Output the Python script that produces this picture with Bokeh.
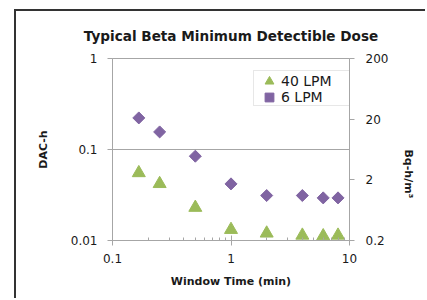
import math
from bokeh.plotting import figure
from bokeh.models import (Range1d, LogScale, LogAxis, FixedTicker, Legend, LegendItem, Title)
from bokeh.embed import file_html
from bokeh.resources import INLINE

# ---- data ----
window_time_min = [0.1667, 0.25, 0.5, 1, 2, 4, 6, 8]
dac_h_40lpm = [0.0553, 0.042, 0.023, 0.01315, 0.0120, 0.01138, 0.0112, 0.01138]
dac_h_6lpm = [0.2223, 0.156, 0.0844, 0.0419, 0.0312, 0.0312, 0.0294, 0.0294]

series_labels = ["40 LPM", "6 LPM"]

x_ticks = [0.1, 1, 10]
x_tick_labels = ["0.1", "1", "10"]
x_minor = [0.2, 0.3, 0.4, 0.5, 0.6, 0.7, 0.8, 0.9, 2, 3, 4, 5, 6, 7, 8, 9]
y_ticks = [0.01, 0.1, 1]
y_tick_labels = ["0.01", "0.1", "1"]
y2_ticks = [0.2, 2, 20, 200]
y2_tick_labels = ["0.2", "2", "20", "200"]

FONT = "DejaVu Sans"
AXIS_COL = "#a6a6a6"
TXT = "#1a1a1a"
GREEN = "#9bbb59"
PURPLE = "#8064a2"

# chart area with a dark frame on its left and top (cropped on right/bottom like the original)
p = figure(width=411, height=289, x_axis_type="log", y_axis_type="log",
           x_range=Range1d(0.1, 10), y_range=Range1d(0.01, 1),
           output_backend="svg", toolbar_location=None,
           min_border_left=96, min_border_right=78, min_border_top=46, min_border_bottom=60,
           styles={"border-left": "2px solid #333333", "border-top": "2px solid #333333",
                   "margin-left": "14px", "margin-top": "9px"})

p.title = Title(text="Typical Beta Minimum Detectible Dose", align="center",
                text_font=FONT, text_font_size="13.6px", text_font_style="bold",
                text_color=TXT, standoff=29, offset=-4)

p.outline_line_color = AXIS_COL
p.outline_line_width = 1
p.xgrid.visible = False
p.ygrid.ticker = FixedTicker(ticks=y_ticks)
p.ygrid.grid_line_color = AXIS_COL
p.ygrid.grid_line_width = 1

xa = p.xaxis[0]
xa.ticker = FixedTicker(ticks=x_ticks, minor_ticks=x_minor)
xa.major_label_overrides = dict(zip(x_ticks, x_tick_labels))
xa.axis_label = "Window Time (min)"

ya = p.yaxis[0]
ya.ticker = FixedTicker(ticks=y_ticks)
ya.major_label_overrides = dict(zip(y_ticks, y_tick_labels))
ya.axis_label = "DAC-h"

p.extra_y_ranges = {"bq": Range1d(0.2, 200)}
p.extra_y_scales = {"bq": LogScale()}
ra = LogAxis(y_range_name="bq", axis_label="Bq-h/m\u00b3")
ra.ticker = FixedTicker(ticks=y2_ticks)
ra.major_label_overrides = dict(zip(y2_ticks, y2_tick_labels))
p.add_layout(ra, "right")

for ax in (xa, ya, ra):
    ax.axis_line_color = AXIS_COL
    ax.major_tick_line_color = AXIS_COL
    ax.minor_tick_line_color = AXIS_COL
    ax.major_label_text_font = FONT
    ax.major_label_text_font_size = "12px"
    ax.major_label_text_color = TXT
    ax.axis_label_text_font = FONT
    ax.axis_label_text_font_size = "11px"
    ax.axis_label_text_font_style = "bold"
    ax.axis_label_text_color = TXT

xa.major_tick_in = 5
xa.major_tick_out = 5
xa.minor_tick_in = 3
xa.minor_tick_out = 0
xa.major_label_standoff = 8
xa.axis_label_standoff = 9

ya.major_tick_in = 0
ya.major_tick_out = 5
ya.minor_tick_line_color = None
ya.major_label_standoff = 10
ya.axis_label_standoff = 18

ra.major_tick_in = 0
ra.major_tick_out = 5
ra.minor_tick_line_color = None
ra.major_label_standoff = 11
ra.axis_label_standoff = 17
ra.axis_label_orientation = -math.pi / 2

r40 = p.scatter(window_time_min, dac_h_40lpm, marker="triangle", size=13,
                fill_color=GREEN, line_color=GREEN)
r6 = p.scatter(window_time_min, dac_h_6lpm, marker="square", size=8.5, angle=math.pi / 4,
               fill_color=PURPLE, line_color=PURPLE)

# empty, invisible renderer used only to draw the legend's frame
r_frame = p.scatter(x=[], y=[], marker="square", size=1, fill_alpha=0, line_alpha=0)
p.add_layout(Legend(items=[LegendItem(label=" ", renderers=[r_frame])],
                    location=(141, 134), margin=0, padding=0, spacing=0,
                    glyph_width=75, glyph_height=34, label_height=34, label_standoff=0,
                    label_text_font=FONT, label_text_font_size="10px",
                    border_line_color="#d0d0d0", border_line_width=1,
                    background_fill_color="white", background_fill_alpha=1), "center")

legend_common = dict(margin=0, padding=0, spacing=0, label_height=22, glyph_height=22,
                     glyph_width=22, label_standoff=1, label_text_font=FONT,
                     label_text_font_size="14px", label_text_color=TXT,
                     border_line_color=None, background_fill_alpha=0)
for label, rend, loc in zip(series_labels, [r40, r6], [(146, 148), (146, 132)]):
    p.add_layout(Legend(items=[LegendItem(label=label, renderers=[rend])],
                        location=loc, **legend_common), "center")

open("out.html", "w").write(file_html(p, INLINE))
